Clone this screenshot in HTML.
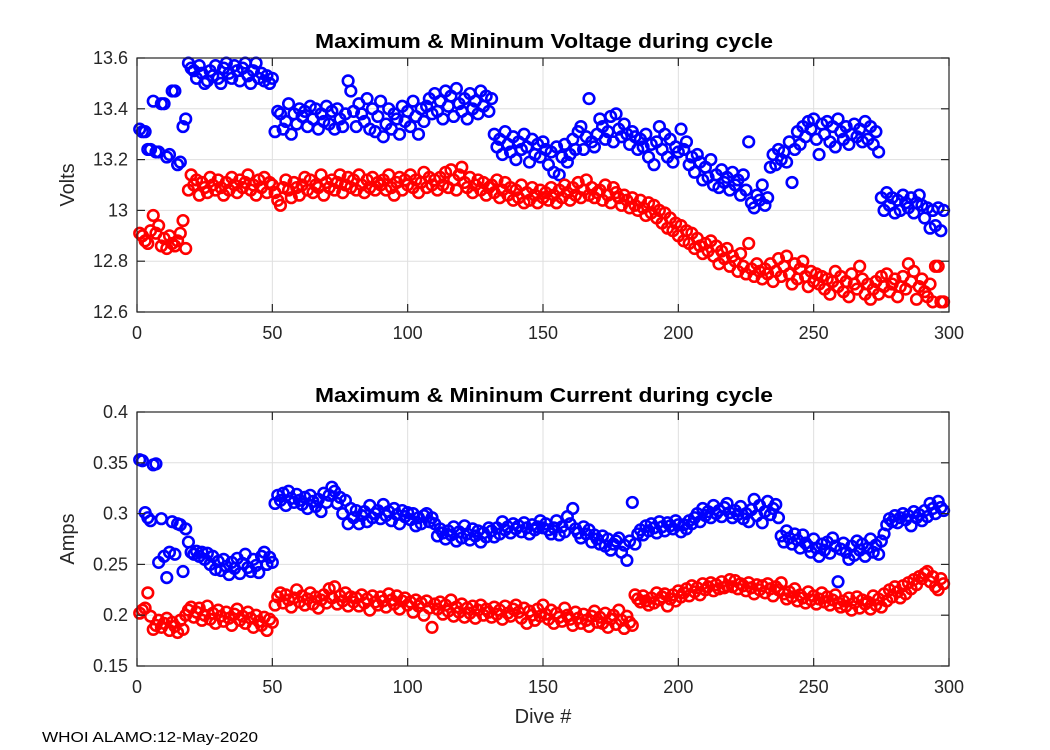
<!DOCTYPE html>
<html><head><meta charset="utf-8"><style>
body{margin:0;background:#fff;}
svg{display:block;font-family:"Liberation Sans",Arial,sans-serif;}
</style></head><body>
<svg id="fig" width="1050" height="750" viewBox="0 0 1050 750">
<rect width="1050" height="750" fill="#fff"/>
<text x="315" y="48" textLength="458" lengthAdjust="spacingAndGlyphs" font-size="20" font-weight="bold" fill="#000">Maximum &amp; Mininum Voltage during cycle</text>
<text x="315" y="402" textLength="458" lengthAdjust="spacingAndGlyphs" font-size="20" font-weight="bold" fill="#000">Maximum &amp; Mininum Current during cycle</text>
<text transform="translate(74,185) rotate(-90)" text-anchor="middle" font-size="20" fill="#262626">Volts</text>
<text transform="translate(74,539) rotate(-90)" text-anchor="middle" font-size="20" fill="#262626">Amps</text>
<text x="543" y="723" text-anchor="middle" font-size="20" fill="#262626">Dive #</text>
<text x="42" y="742" textLength="216" lengthAdjust="spacingAndGlyphs" font-size="15" fill="#000">WHOI ALAMO:12-May-2020</text>
<g id="top"></g>
<g id="bot"></g>
</svg>
<script>
const xTicks=[0,50,100,150,200,250,300];
const vTicks=[12.6,12.8,13,13.2,13.4,13.6];
const vTickLabels=["12.6","12.8","13","13.2","13.4","13.6"];
const aTicks=[0.15,0.2,0.25,0.3,0.35,0.4];
const aTickLabels=["0.15","0.2","0.25","0.3","0.35","0.4"];
const voltMax=[13.32,13.31,13.31,13.24,13.24,13.43,13.23,13.23,13.42,13.42,
13.21,13.22,13.47,13.47,13.18,13.19,13.33,13.36,13.58,13.56,
13.55,13.52,13.57,13.54,13.50,13.51,13.55,13.53,13.57,13.52,
13.50,13.56,13.58,13.54,13.52,13.57,13.55,13.51,13.56,13.58,
13.53,13.50,13.55,13.58,13.52,13.54,13.51,13.53,13.50,13.52,
13.31,13.39,13.38,13.32,13.35,13.42,13.30,13.38,13.34,13.40,
13.37,13.39,13.33,13.41,13.36,13.40,13.32,13.38,13.35,13.41,
13.34,13.39,13.32,13.40,13.36,13.33,13.38,13.51,13.47,13.39,
13.33,13.42,13.38,13.35,13.44,13.32,13.40,13.31,13.37,13.43,
13.29,13.34,13.40,13.32,13.38,13.36,13.30,13.41,13.35,13.39,
13.33,13.43,13.37,13.30,13.40,13.35,13.41,13.44,13.38,13.46,
13.39,13.43,13.36,13.47,13.41,13.45,13.37,13.48,13.42,13.39,
13.44,13.36,13.46,13.40,13.43,13.38,13.47,13.41,13.45,13.39,
13.44,13.30,13.25,13.28,13.22,13.31,13.26,13.23,13.29,13.20,
13.27,13.24,13.30,13.25,13.19,13.28,13.22,13.26,13.21,13.27,
13.24,13.18,13.23,13.15,13.25,13.14,13.21,13.26,13.19,13.22,
13.28,13.24,13.31,13.33,13.24,13.29,13.44,13.27,13.25,13.30,
13.36,13.33,13.28,13.31,13.37,13.27,13.38,13.32,13.29,13.34,
13.30,13.26,13.31,13.29,13.24,13.28,13.25,13.30,13.21,13.26,
13.18,13.27,13.33,13.24,13.30,13.21,13.28,13.19,13.25,13.23,
13.32,13.24,13.27,13.18,13.21,13.15,13.22,13.19,13.12,13.17,
13.13,13.20,13.10,13.14,13.09,13.16,13.11,13.13,13.08,13.15,
13.10,13.12,13.06,13.14,13.08,13.27,13.03,13.01,13.06,13.04,
13.10,13.02,13.05,13.17,13.22,13.18,13.24,13.20,13.23,13.19,
13.27,13.11,13.24,13.31,13.26,13.33,13.29,13.35,13.32,13.36,
13.28,13.22,13.34,13.30,13.35,13.27,13.33,13.25,13.36,13.31,
13.28,13.33,13.26,13.30,13.34,13.29,13.32,13.27,13.35,13.28,
13.33,13.26,13.31,13.23,13.05,13.00,13.07,13.02,13.05,12.99,
13.04,13.00,13.06,13.03,13.01,13.05,12.99,13.03,13.06,13.02,
12.97,13.01,12.93,13.00,12.94,13.01,12.92,13.00];
const voltMin=[12.91,12.90,12.88,12.87,12.92,12.98,12.91,12.94,12.86,12.89,12.85,12.90,12.87,12.86,12.88,12.91,12.96,12.85,
13.08,13.14,13.10,13.12,13.06,13.11,13.09,13.07,13.13,13.10,13.08,13.12,
13.09,13.06,13.11,13.08,13.13,13.10,13.07,13.12,13.09,13.11,13.14,13.08,13.10,13.06,13.12,13.09,13.13,13.07,13.11,13.10,
13.07,13.04,13.02,13.09,13.12,13.08,13.05,13.11,13.09,13.06,13.10,13.13,13.08,13.12,13.07,13.10,13.09,13.14,13.06,13.11,
13.09,13.12,13.08,13.11,13.14,13.07,13.10,13.13,13.09,13.12,13.08,13.14,13.10,13.07,13.12,13.09,13.13,13.08,13.11,13.10,
13.12,13.08,13.14,13.09,13.06,13.11,13.13,13.08,13.12,13.10,13.14,13.09,13.12,13.07,13.11,13.15,13.09,13.13,13.10,13.12,
13.08,13.13,13.10,13.15,13.09,13.16,13.12,13.08,13.14,13.17,13.11,13.09,13.13,13.07,13.10,13.12,13.08,13.11,13.06,13.09,
13.10,13.07,13.12,13.05,13.08,13.11,13.06,13.09,13.04,13.08,13.05,13.10,13.03,13.07,13.04,13.09,13.06,13.03,13.08,13.05,
13.07,13.04,13.09,13.06,13.03,13.08,13.05,13.10,13.07,13.04,13.09,13.06,13.11,13.05,13.08,13.12,13.06,13.09,13.05,13.07,
13.08,13.04,13.10,13.06,13.03,13.09,13.07,13.05,13.02,13.06,13.04,13.01,13.05,13.02,13.00,13.04,13.01,12.98,13.03,12.99,
13.02,12.97,13.00,12.95,12.99,12.93,12.97,12.92,12.95,12.90,12.94,12.88,12.92,12.87,12.91,12.85,12.89,12.86,12.83,12.87,
12.84,12.88,12.82,12.86,12.79,12.84,12.81,12.85,12.78,12.82,12.80,12.76,12.83,12.78,12.75,12.87,12.77,12.74,12.79,12.76,
12.73,12.77,12.75,12.79,12.72,12.76,12.81,12.74,12.78,12.82,12.75,12.71,12.79,12.73,12.77,12.80,12.74,12.70,12.76,12.72,
12.75,12.71,12.74,12.69,12.73,12.67,12.72,12.76,12.70,12.74,12.68,12.72,12.66,12.75,12.71,12.69,12.78,12.73,12.67,12.71,
12.65,12.69,12.72,12.67,12.74,12.70,12.75,12.68,12.71,12.73,12.66,12.70,12.74,12.69,12.79,12.72,12.76,12.65,12.70,12.73,
12.68,12.66,12.71,12.64,12.78,12.78,12.64,12.64];
const ampMax=[0.353,0.352,0.301,0.296,0.293,0.348,0.349,0.252,0.295,0.258,
0.237,0.262,0.292,0.260,0.290,0.289,0.243,0.285,0.272,0.262,
0.260,0.263,0.258,0.262,0.255,0.261,0.250,0.258,0.245,0.253,
0.244,0.255,0.248,0.240,0.252,0.246,0.256,0.241,0.251,0.260,
0.247,0.243,0.255,0.249,0.242,0.258,0.262,0.250,0.257,0.252,
0.310,0.318,0.313,0.320,0.308,0.322,0.315,0.311,0.319,0.313,0.309,0.316,0.305,0.318,0.312,0.307,0.314,0.302,0.320,0.311,
0.318,0.326,0.322,0.310,0.316,0.300,0.313,0.290,0.305,0.296,0.303,0.290,0.298,0.302,0.292,0.308,0.296,0.300,0.303,0.295,
0.309,0.298,0.302,0.293,0.305,0.299,0.290,0.303,0.297,0.301,0.294,0.300,0.288,0.296,0.290,0.298,0.300,0.292,0.296,0.290,
0.278,0.285,0.281,0.275,0.283,0.279,0.287,0.273,0.282,0.276,0.288,0.280,0.274,0.285,0.278,0.283,0.272,0.281,0.277,0.286,
0.283,0.277,0.286,0.280,0.292,0.284,0.287,0.281,0.290,0.285,0.288,0.282,0.291,0.286,0.280,0.289,0.284,0.287,0.293,0.286,
0.290,0.284,0.280,0.286,0.293,0.279,0.287,0.282,0.297,0.290,0.305,0.285,0.281,0.276,0.287,0.280,0.284,0.272,0.279,0.275,
0.270,0.278,0.268,0.275,0.264,0.270,0.273,0.276,0.262,0.269,0.254,0.273,0.311,0.270,0.280,
0.284,0.279,0.288,0.283,0.290,0.286,0.281,0.292,0.287,0.283,0.291,0.288,0.285,0.293,0.289,
0.282,0.289,0.285,0.293,0.290,0.296,0.300,0.292,0.305,0.298,0.302,0.296,0.308,0.300,0.303,0.297,0.306,0.310,0.301,0.296,
0.303,0.299,0.307,0.295,0.300,0.292,0.304,0.314,0.298,0.308,0.291,0.302,0.312,0.299,0.305,0.309,0.296,0.278,0.272,0.283,
0.276,0.270,0.280,0.274,0.266,0.279,0.271,0.268,0.262,0.275,0.266,0.258,0.270,0.264,0.272,0.261,0.276,0.268,0.233,0.265,
0.271,0.262,0.255,0.268,0.259,0.273,0.264,0.270,0.258,0.266,0.275,0.262,0.269,0.260,0.273,0.280,0.289,0.295,0.292,0.298,
0.291,0.296,0.300,0.294,0.298,0.288,0.302,0.296,0.299,0.293,0.303,0.297,0.310,0.305,0.300,0.312,0.306,0.303];
const ampMin=[0.202,0.205,0.207,0.222,0.199,0.186,0.190,0.195,0.188,0.192,0.197,0.185,0.193,0.189,0.183,0.195,0.186,0.200,0.205,0.208,
0.198,0.203,0.207,0.195,0.200,0.209,0.196,0.202,0.192,0.205,0.199,0.194,0.203,0.197,0.190,0.201,0.206,0.195,0.199,0.192,0.203,0.197,0.188,0.200,0.194,0.190,0.198,0.185,0.196,0.193,
0.210,0.218,0.222,0.212,0.220,0.215,0.208,0.217,0.225,0.213,0.219,0.210,0.216,0.222,0.211,0.218,0.207,0.215,0.220,0.212,0.226,0.217,0.228,0.211,0.219,0.214,0.222,0.209,0.218,0.213,
0.217,0.209,0.220,0.212,0.216,0.205,0.219,0.213,0.210,0.218,0.214,0.208,0.221,0.215,0.211,0.219,0.206,0.214,0.217,0.210,0.213,0.203,0.215,0.209,0.212,0.200,0.214,0.207,0.188,0.211,
0.206,0.213,0.201,0.210,0.204,0.215,0.199,0.208,0.203,0.211,0.198,0.207,0.202,0.209,0.197,0.205,0.210,0.200,0.206,0.203,0.198,0.208,0.201,0.205,0.196,0.209,0.202,0.199,0.206,0.210,
0.203,0.197,0.207,0.192,0.204,0.200,0.195,0.206,0.199,0.210,0.201,0.196,0.205,0.192,0.202,0.198,0.194,0.207,0.200,0.196,0.190,0.203,0.197,0.192,0.201,0.195,0.189,0.199,0.204,0.193,
0.198,0.192,0.202,0.188,0.196,0.200,0.191,0.205,0.195,0.187,0.199,0.193,0.190,0.220,0.216,0.213,0.219,0.214,0.210,0.217,0.212,0.222,0.215,0.218,0.221,0.209,0.216,0.220,0.214,0.224,
0.218,0.222,0.226,0.219,0.229,0.223,0.227,0.220,0.231,0.225,0.228,0.232,0.224,0.230,0.226,0.233,0.227,0.229,0.235,0.228,0.234,0.226,0.231,0.229,0.224,0.232,0.227,0.221,0.230,0.225,
0.229,0.222,0.231,0.226,0.219,0.228,0.225,0.232,0.221,0.216,0.223,0.218,0.226,0.214,0.220,0.217,0.212,0.223,0.215,0.219,0.211,0.216,0.222,0.213,0.218,0.210,0.215,0.220,0.212,0.208,
0.214,0.209,0.217,0.205,0.212,0.218,0.207,0.215,0.211,0.213,0.206,0.219,0.210,0.216,0.208,0.221,0.214,0.225,0.218,0.228,0.223,0.217,0.229,0.221,0.232,0.226,0.235,0.230,0.238,0.236,0.241,0.243,0.233,0.238,0.228,0.225,0.236,0.231];

const NS='http://www.w3.org/2000/svg';
const L=137,R=949;
function mk(tag,attrs,parent){const e=document.createElementNS(NS,tag);for(const k in attrs)e.setAttribute(k,attrs[k]);parent.appendChild(e);return e;}
function xs(v){return L+(v-0)/(300-0)*(R-L);}
function drawAxes(g,top,bot,ymin,ymax,yt,ytl,prefix){
  const ys=v=>bot-(v-ymin)/(ymax-ymin)*(bot-top);
  xTicks.forEach(t=>{
    const gl=mk('line',{x1:xs(t),x2:xs(t),y1:top,y2:bot,stroke:'#dfdfdf','stroke-width':1},g);
    
    
  });
  yt.forEach(t=>{
    const gl=mk('line',{x1:L,x2:R,y1:ys(t),y2:ys(t),stroke:'#dfdfdf','stroke-width':1},g);
    
    
  });
  return ys;
}
function drawFrame(g,top,bot,yt,ytl,ys,prefix){
  const box=mk('rect',{x:L,y:top,width:R-L,height:bot-top,fill:'none',stroke:'#262626','stroke-width':1.2},g);
  
  
  xTicks.forEach(t=>{
    const x=xs(t);
    mk('line',{x1:x,x2:x,y1:bot,y2:bot-8,stroke:'#262626','stroke-width':1.2},g);
    mk('line',{x1:x,x2:x,y1:top,y2:top+8,stroke:'#262626','stroke-width':1.2},g);
    const tx=mk('text',{x:x,y:bot+27,'text-anchor':'middle','font-size':18,fill:'#262626'},g);
    tx.textContent=String(t);
    
    
  });
  yt.forEach((t,i)=>{
    const y=ys(t);
    mk('line',{x1:L,x2:L+8,y1:y,y2:y,stroke:'#262626','stroke-width':1.2},g);
    mk('line',{x1:R,x2:R-8,y1:y,y2:y,stroke:'#262626','stroke-width':1.2},g);
    const tx=mk('text',{x:L-9,y:y+6,'text-anchor':'end','font-size':18,fill:'#262626'},g);
    tx.textContent=ytl[i];
    
    
  });
}
function drawSeries(g,arr,ys,color,name){
  const sg=mk('g',{},g);
  
  
  arr.forEach((v,i)=>{
    const c=mk('circle',{cx:xs(i+1),cy:ys(v),r:5.3,fill:'none',stroke:color,'stroke-width':2.6},sg);
    
    
  });
}
const gt=document.getElementById('top'),gb=document.getElementById('bot');
const ysT=drawAxes(gt,58,312,12.6,13.6,vTicks,vTickLabels,'voltage');
drawSeries(gt,voltMax,ysT,'#0000ff','max-voltage');
drawSeries(gt,voltMin,ysT,'#ff0000','min-voltage');
drawFrame(gt,58,312,vTicks,vTickLabels,ysT,'voltage');
const ysB=drawAxes(gb,412,666,0.15,0.4,aTicks,aTickLabels,'current');
drawSeries(gb,ampMax,ysB,'#0000ff','max-current');
drawSeries(gb,ampMin,ysB,'#ff0000','min-current');
drawFrame(gb,412,666,aTicks,aTickLabels,ysB,'current');
</script>
</body></html>
